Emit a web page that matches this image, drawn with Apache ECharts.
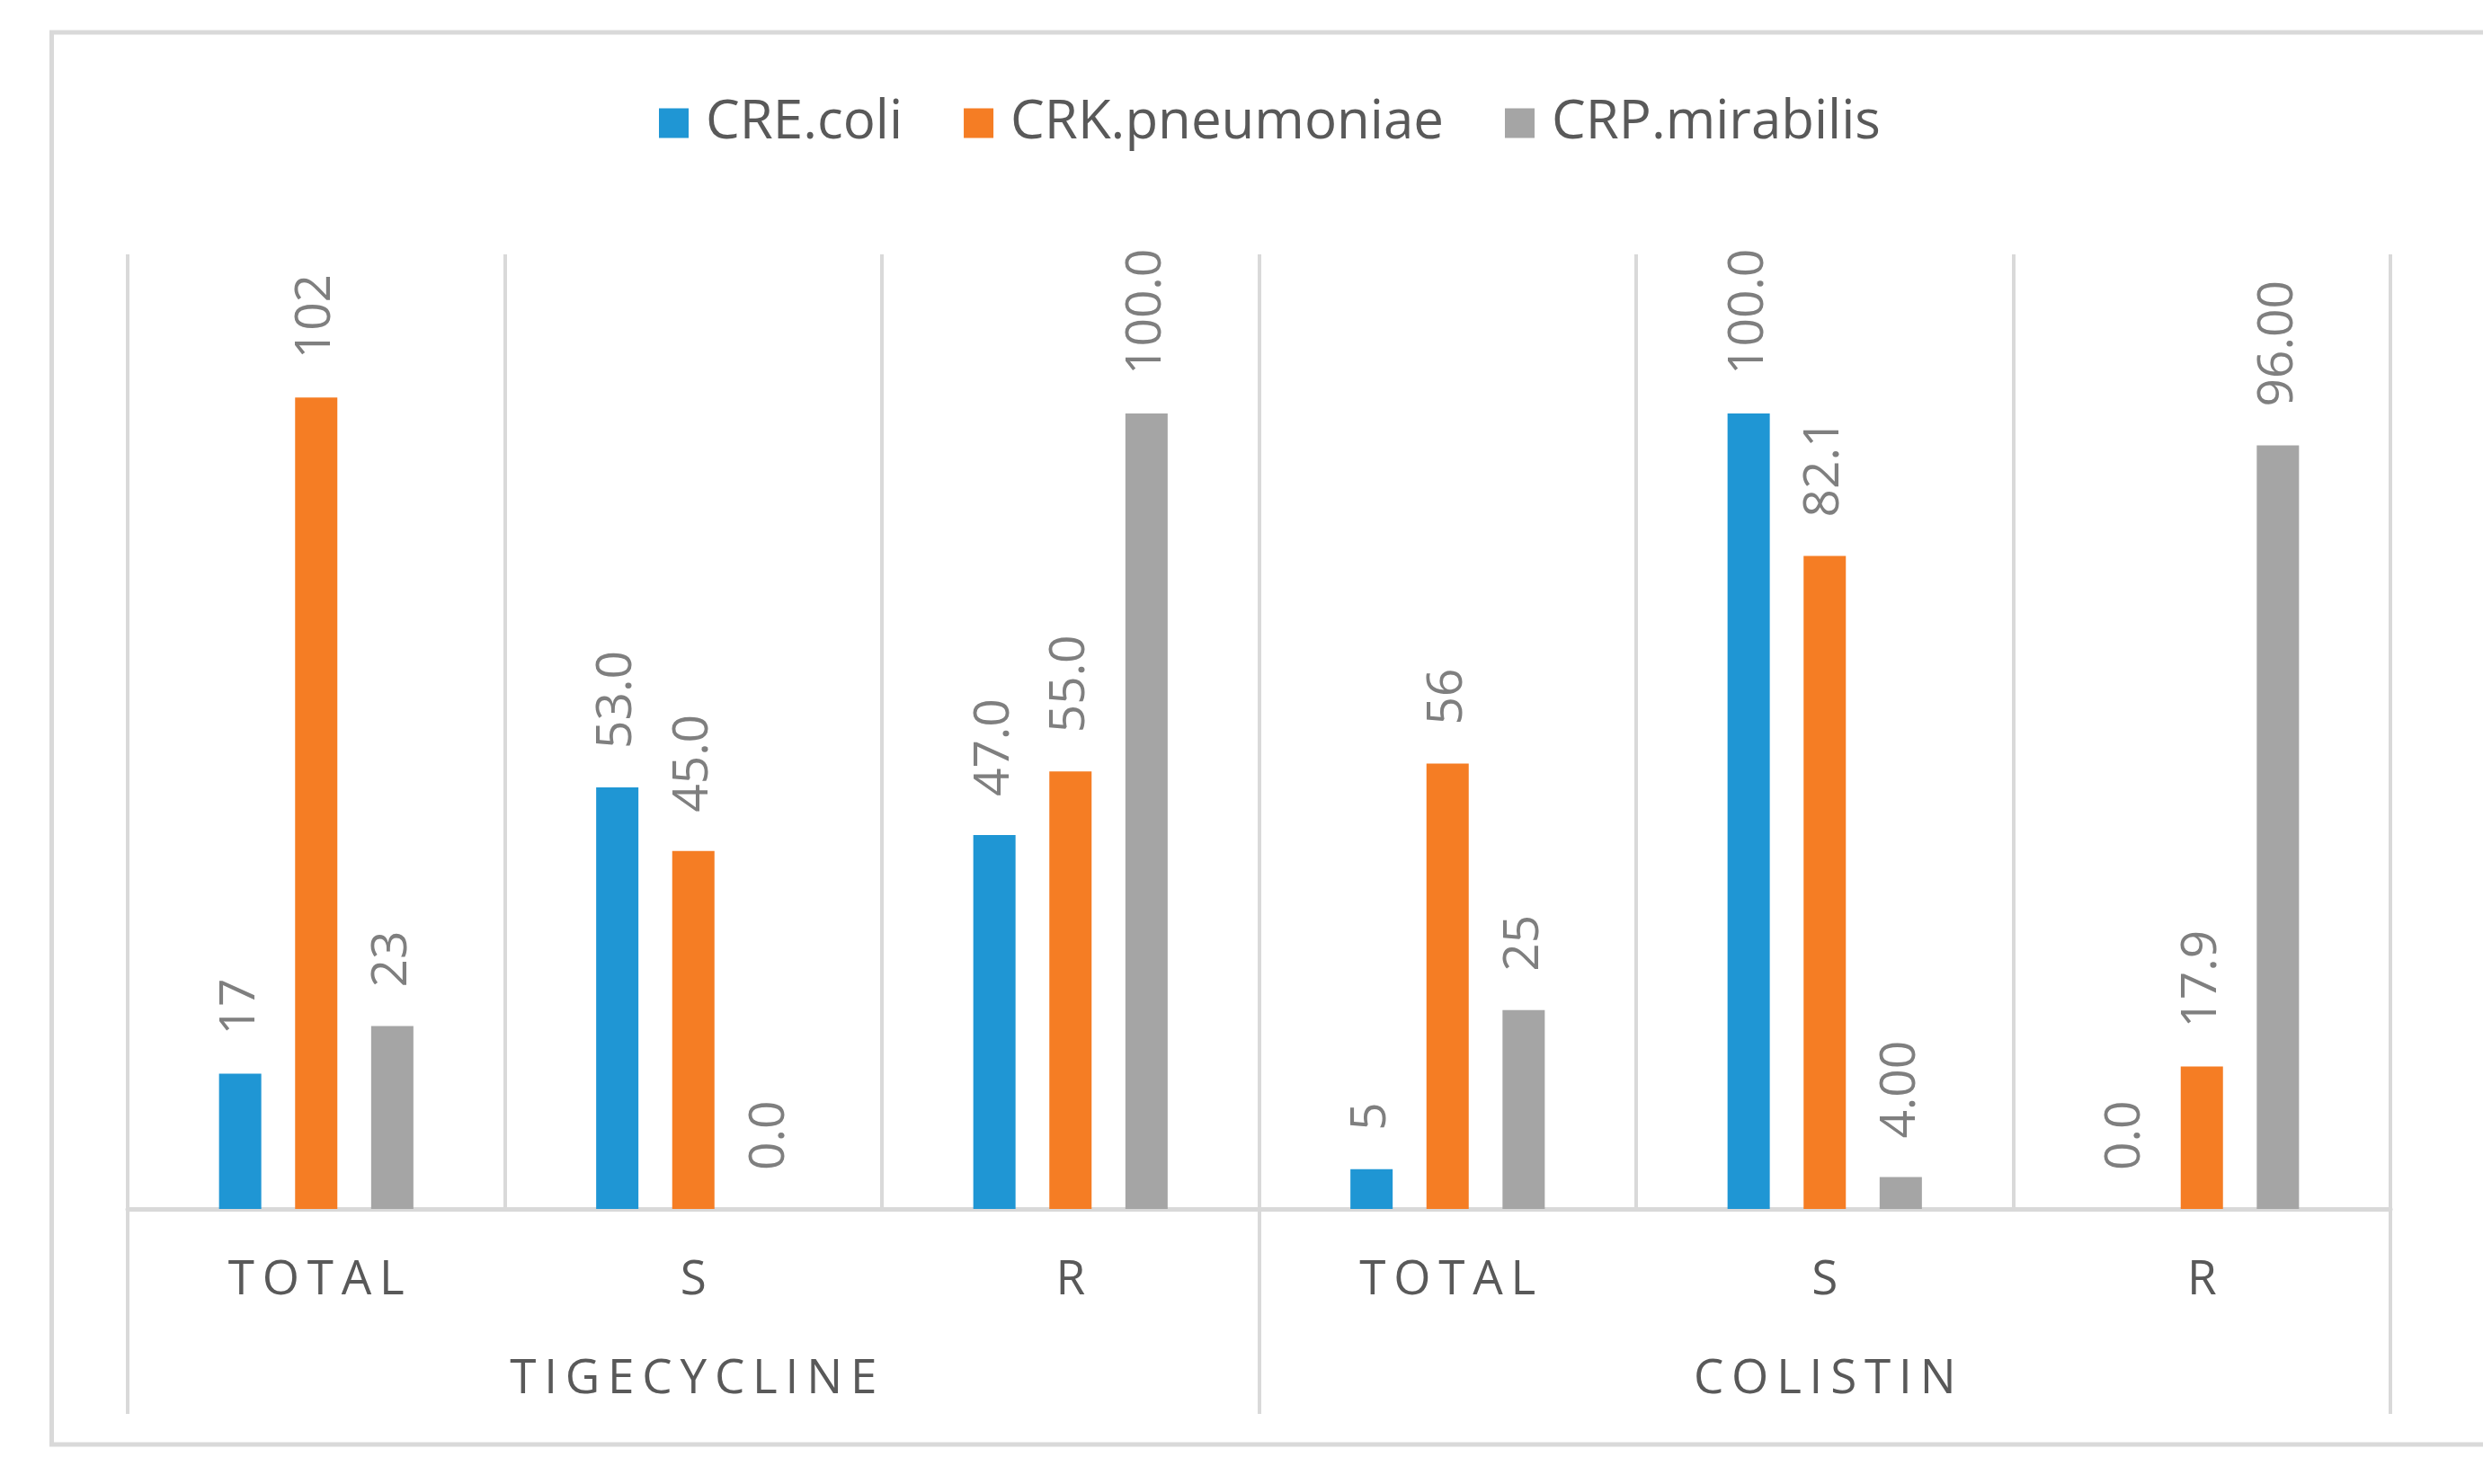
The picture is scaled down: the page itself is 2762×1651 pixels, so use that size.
<!DOCTYPE html>
<html>
<head>
<meta charset="utf-8">
<script src="https://cdn.jsdelivr.net/npm/echarts@6/dist/echarts.min.js"></script>
<style>
html,body{margin:0;padding:0;background:#fff;}
#chart{width:2762px;height:1651px;}
</style>
</head>
<body>
<div id="chart"></div>
<script>
// ---- data ----
const subCategories = ['TOTAL', 'S', 'R', 'TOTAL', 'S', 'R'];
const groupCategories = ['TIGECYCLINE', 'COLISTIN'];
const seriesNames = ['CRE.coli', 'CRK.pneumoniae', 'CRP.mirabilis'];
const eColi = [17, 53.0, 47.0, 5, 100.0, 0.0];
const kPneumoniae = [102, 45.0, 55.0, 56, 82.1, 17.9];
const pMirabilis = [23, 0.0, 100.0, 25, 4.00, 96.00];
const eColiLabels = ['17', '53.0', '47.0', '5', '100.0', '0.0'];
const kPneumoniaeLabels = ['102', '45.0', '55.0', '56', '82.1', '17.9'];
const pMirabilisLabels = ['23', '0.0', '100.0', '25', '4.00', '96.00'];
const yMax = 120;

const colors = ['#1f96d4', '#f57d24', '#a5a5a5'];
const spaced = s => s.split('').join('\u2009');
const FONT = '"Open Sans", "Liberation Sans", sans-serif';

function barSeries(name, values, labels, color) {
  return {
    name: name,
    type: 'bar',
    barWidth: 47,
    barGap: '80%',
    itemStyle: { color: color },
    data: values,
    label: {
      show: true,
      position: 'top',
      rotate: 90,
      align: 'left',
      verticalAlign: 'middle',
      distance: 43,
      fontFamily: FONT,
      fontSize: 55,
      color: '#7f7f7f',
      formatter: p => labels[p.dataIndex]
    }
  };
}

const chart = echarts.init(document.getElementById('chart'));
chart.setOption({
  backgroundColor: '#ffffff',
  animation: false,
  graphic: [{
    type: 'rect',
    shape: { x: 57.5, y: 36, width: 2800, height: 1571 },
    style: { fill: 'none', stroke: '#d9d9d9', lineWidth: 5 },
    z: -10
  }],
  legend: {
    left: 728,
    top: 102,
    itemWidth: 33,
    itemHeight: 33,
    itemGap: 68,
    icon: 'rect',
    textStyle: { fontFamily: FONT, fontSize: 60, color: '#595959', padding: [0, 0, 0, 14] },
    data: seriesNames
  },
  grid: { left: 142, right: 103, top: 283, bottom: 306, containLabel: false },
  xAxis: [{
    type: 'category',
    data: subCategories.map(spaced),
    axisLine: { show: true, lineStyle: { color: '#d9d9d9', width: 5 } },
    axisTick: { show: false },
    splitLine: { show: true, interval: 0, lineStyle: { color: '#d9d9d9', width: 4 } },
    axisLabel: { interval: 0, margin: 53, fontFamily: FONT, fontSize: 53, color: '#595959' }
  }, {
    type: 'category',
    position: 'bottom',
    data: groupCategories.map(spaced),
    axisLine: { show: false },
    axisTick: { show: true, length: 228, lineStyle: { color: '#d9d9d9', width: 4 } },
    axisLabel: { interval: 0, margin: 163, fontFamily: FONT, fontSize: 53, color: '#595959' }
  }],
  yAxis: {
    type: 'value',
    min: 0,
    max: yMax,
    show: false,
    splitLine: { show: false }
  },
  series: [
    barSeries(seriesNames[0], eColi, eColiLabels, colors[0]),
    barSeries(seriesNames[1], kPneumoniae, kPneumoniaeLabels, colors[1]),
    barSeries(seriesNames[2], pMirabilis, pMirabilisLabels, colors[2])
  ]
});
</script>
</body>
</html>
